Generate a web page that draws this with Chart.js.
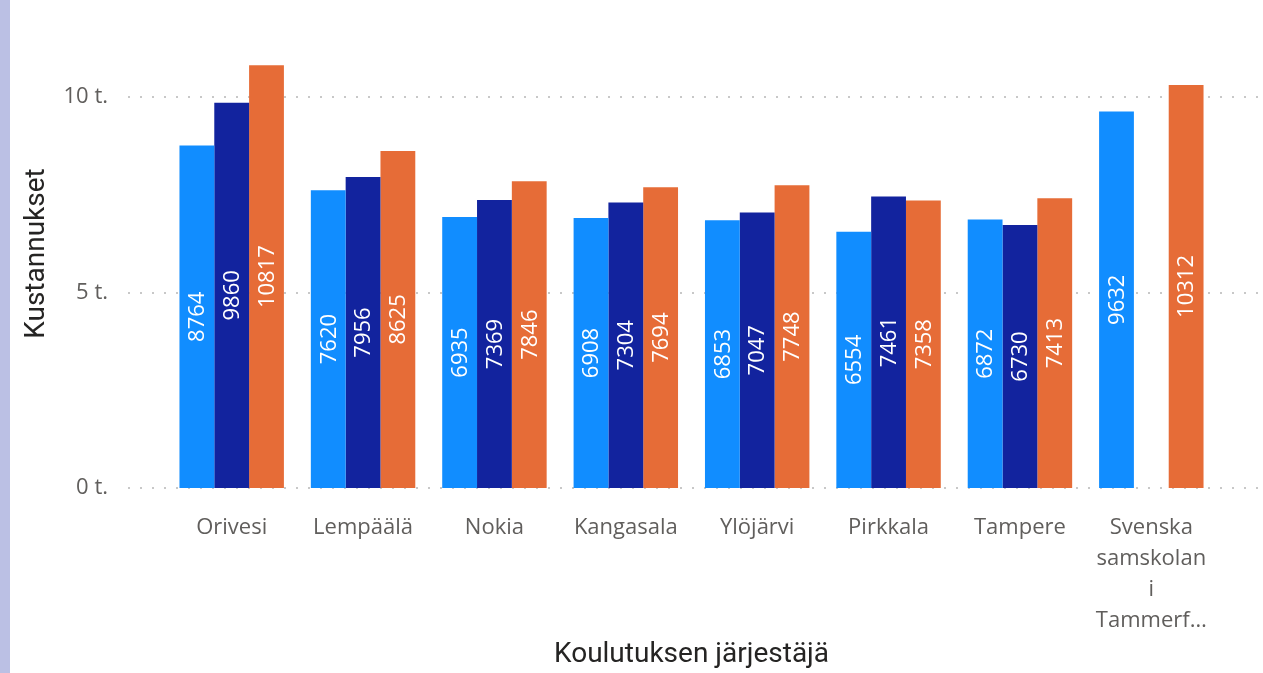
<!DOCTYPE html>
<html>
<head>
<meta charset="utf-8">
<script src="https://cdn.jsdelivr.net/npm/chart.js@4"></script>
<style>
    html, body { margin: 0; padding: 0; background: #ffffff; }
    #wrap { width: 1263px; height: 673px; }
</style>
</head>
<body>
<div id="wrap"><canvas id="costChart" width="1263" height="673"></canvas></div>
<script>
// Data
const categories = [
    'Orivesi', 'Lempäälä', 'Nokia', 'Kangasala', 'Ylöjärvi', 'Pirkkala', 'Tampere',
    ['Svenska', 'samskolan', 'i', 'Tammerf…']
];
const seriesA = [8764, 7620, 6935, 6908, 6853, 6554, 6872, 9632];
const seriesB = [9860, 7956, 7369, 7304, 7047, 7461, 6730, null];
const seriesC = [10817, 8625, 7846, 7694, 7748, 7358, 7413, 10312];
const yTicks = [0, 5000, 10000];
const yTickText = { 0: '0 t.', 5000: '5 t.', 10000: '10 t.' };

const FONT = "'Segoe UI', 'Open Sans', sans-serif";
const TITLE_FONT = "Roboto, 'DIN', sans-serif";

// Lavender strip on the left edge
const stripPlugin = {
    id: 'strip',
    beforeDraw(chart) {
        const ctx = chart.ctx;
        ctx.save();
        ctx.fillStyle = '#BBC0E4';
        ctx.fillRect(0, 0, 10, chart.height);
        ctx.restore();
    }
};

// Dotted gridlines that run past the category area, like Power BI does
const dottedGrid = {
    id: 'dottedGrid',
    beforeDatasetsDraw(chart) {
        const ctx = chart.ctx;
        const y = chart.scales.y;
        ctx.save();
        ctx.strokeStyle = '#C8C8C8';
        ctx.lineWidth = 2;
        ctx.setLineDash([2, 10]);
        yTicks.forEach(v => {
            const py = Math.round(y.getPixelForValue(v));
            ctx.beginPath();
            ctx.moveTo(128, py);
            ctx.lineTo(1260, py);
            ctx.stroke();
        });
        ctx.restore();
    }
};

// Values written vertically in the middle of each bar
const barLabels = {
    id: 'barLabels',
    afterDatasetsDraw(chart) {
        const ctx = chart.ctx;
        ctx.save();
        ctx.fillStyle = '#ffffff';
        ctx.font = '22px ' + FONT;
        ctx.textAlign = 'center';
        ctx.textBaseline = 'middle';
        chart.data.datasets.forEach((ds, i) => {
            const meta = chart.getDatasetMeta(i);
            meta.data.forEach((bar, j) => {
                const v = ds.data[j];
                if (v === null || v === undefined) return;
                const cy = (bar.y + bar.base) / 2;
                ctx.save();
                ctx.translate(bar.x, cy);
                ctx.rotate(-Math.PI / 2);
                ctx.fillText(String(v), 0, 1);
                ctx.restore();
            });
        });
        ctx.restore();
    }
};

const ctx = document.getElementById('costChart').getContext('2d');
const costChart = new Chart(ctx, {
    type: 'bar',
    data: {
        labels: categories,
        datasets: [
            { label: 'A', data: seriesA, backgroundColor: '#118DFF' },
            { label: 'B', data: seriesB, backgroundColor: '#12239E' },
            { label: 'C', data: seriesC, backgroundColor: '#E66C37' }
        ]
    },
    options: {
        responsive: false,
        animation: false,
        devicePixelRatio: 1,
        layout: { padding: { left: 0, right: 46, top: 19, bottom: 0 } },
        datasets: {
            bar: { categoryPercentage: 0.795, barPercentage: 1.0 }
        },
        plugins: {
            legend: { display: false },
            tooltip: { enabled: false }
        },
        scales: {
            x: {
                grid: { display: false, drawTicks: false },
                border: { display: false },
                ticks: {
                    color: '#605E5C',
                    font: { family: FONT, size: 22, lineHeight: 1.41 },
                    padding: 24,
                    maxRotation: 0,
                    autoSkip: false
                },
                title: {
                    display: true,
                    text: 'Koulutuksen järjestäjä',
                    color: '#252423',
                    font: { family: TITLE_FONT, size: 28, weight: '400' },
                    padding: { top: 0, bottom: 1 }
                },
                afterFit(scale) {
                    scale.height = 185;
                    scale.paddingLeft = 0;
                    scale.paddingRight = 0;
                }
            },
            y: {
                min: 0,
                max: 12000,
                grid: { display: false, drawTicks: false },
                border: { display: false },
                afterBuildTicks(scale) {
                    scale.ticks = yTicks.map(v => ({ value: v }));
                },
                ticks: {
                    color: '#605E5C',
                    font: { family: FONT, size: 22 },
                    padding: 58,
                    callback: v => yTickText[v]
                },
                title: {
                    display: true,
                    text: 'Kustannukset',
                    color: '#252423',
                    font: { family: TITLE_FONT, size: 28, weight: '400' },
                    padding: { top: 20, bottom: 0 }
                },
                afterFit(scale) {
                    scale.width = 166;
                    scale.paddingTop = 0;
                    scale.paddingBottom = 0;
                }
            }
        }
    },
    plugins: [stripPlugin, dottedGrid, barLabels]
});
</script>
</body>
</html>
